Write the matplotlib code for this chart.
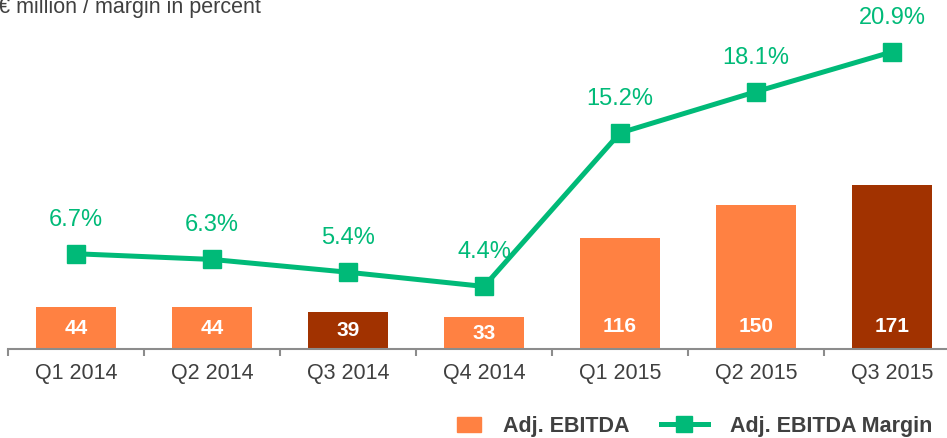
import numpy as np
import matplotlib
matplotlib.use("Agg")
import matplotlib.pyplot as plt
from matplotlib.patches import Patch, Rectangle
from matplotlib.lines import Line2D
from matplotlib.legend_handler import HandlerPatch

plt.rcParams['font.family'] = ['Liberation Sans', 'DejaVu Sans']

quarters = ["Q1 2014", "Q2 2014", "Q3 2014", "Q4 2014", "Q1 2015", "Q2 2015", "Q3 2015"]
ebitda = [44, 44, 39, 33, 116, 150, 171]
margin = [6.7, 6.3, 5.4, 4.4, 15.2, 18.1, 20.9]
highlight = [False, False, True, False, False, False, True]

orange = "#FF8142"
dark = "#A13200"
green = "#00BA78"
grey_txt = "#404040"
axis_grey = "#8C8C8C"

fig = plt.figure(figsize=(9.47, 4.38), dpi=100)
ax = fig.add_axes([8 / 947, 89 / 438, 952 / 947, 349 / 438])
x = np.arange(len(quarters))

colors = [dark if h else orange for h in highlight]
ax.bar(x, ebitda, width=0.59, color=colors, zorder=2)
for xi, v in zip(x, ebitda):
    ax.text(xi, min(v / 2, 23.5) - 0.5, str(v), ha='center', va='center',
            color='white', fontsize=15, fontweight='bold', zorder=3)

ax.set_xlim(-0.5, len(quarters) - 0.5)
ax.set_ylim(0, 364.7)
ax.set_yticks([])
for s in ['top', 'right', 'left']:
    ax.spines[s].set_visible(False)
ax.spines['bottom'].set_color(axis_grey)
ax.spines['bottom'].set_linewidth(1.5)

ax.set_xticks(np.arange(-0.5, len(quarters), 1.0))
ax.set_xticklabels([])
ax.tick_params(axis='x', which='major', length=5, width=1.5, color=axis_grey, direction='out')
ax.set_xticks(x, minor=True)
ax.set_xticklabels(quarters, minor=True, fontsize=15.5, color=grey_txt)
ax.tick_params(axis='x', which='minor', length=0, pad=10)

ax2 = ax.twinx()
ax2.set_ylim(0, 24.55)
ax2.set_yticks([])
for s in ax2.spines.values():
    s.set_visible(False)
ax2.plot(x, margin, color=green, linewidth=3.6, marker='s', markersize=13.5, zorder=4)
for xi, m in zip(x, margin):
    ax2.annotate(f"{m:.1f}%", (xi, m), xytext=(0, 24.5), textcoords='offset points',
                 ha='center', va='center', color=green, fontsize=17)

fig.text(-2 / 947, 1 - 8 / 438, "€ million / margin in percent", fontsize=15.5,
         color=grey_txt, ha='left', va='center')


# small square for the bar entry, right-aligned inside the wider handle box
def small_square(legend, orig_handle, xdescent, ydescent, width, height, fontsize):
    w = height * 1.65
    return Rectangle((width - w - xdescent, -ydescent), w, height)


handles = [Patch(color=orange),
           Line2D([0], [0], color=green, linewidth=3.6, marker='s', markersize=12)]
leg = fig.legend(handles, ["Adj. EBITDA", "Adj. EBITDA Margin"], ncol=2,
                 loc='center', bbox_to_anchor=(683 / 947, 11.5 / 438), frameon=False,
                 prop={'size': 15.5, 'weight': 'bold'}, handlelength=2.2,
                 handleheight=0.7, columnspacing=1.45, handletextpad=1.0,
                 handler_map={Patch: HandlerPatch(patch_func=small_square)})
for t in leg.get_texts():
    t.set_color(grey_txt)

fig.savefig("out.png", dpi=100)
